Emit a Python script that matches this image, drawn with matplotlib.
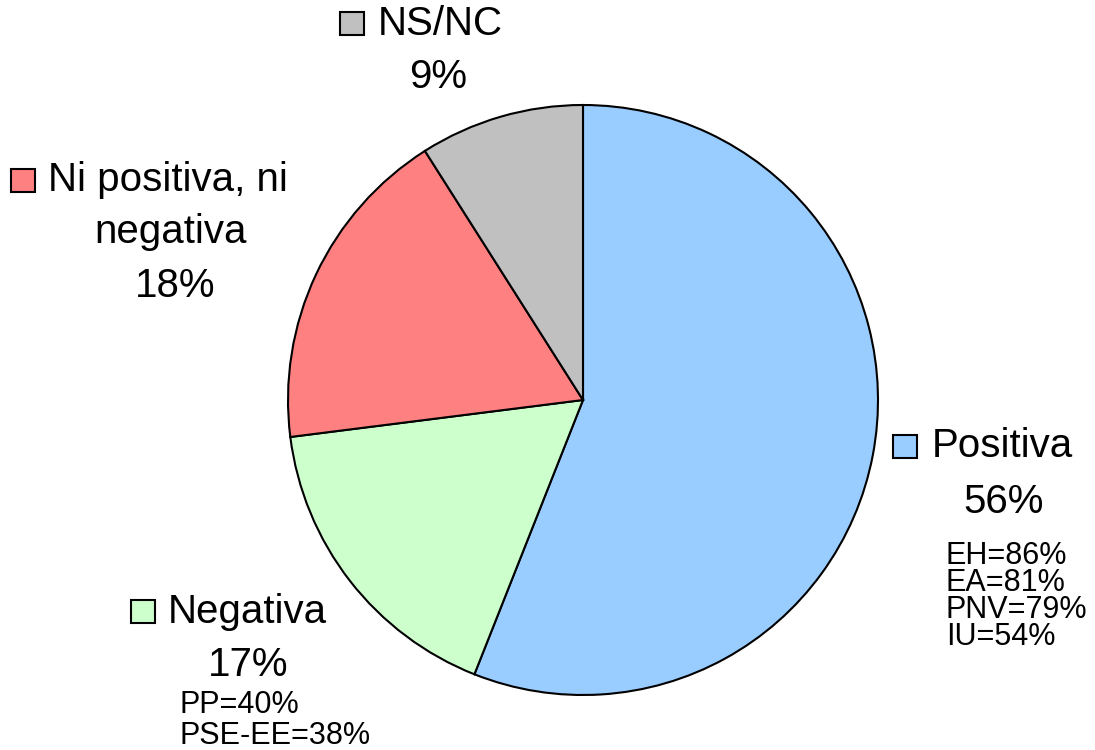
import matplotlib.pyplot as plt
from matplotlib.patches import Rectangle

plt.rcParams['font.family'] = ['Liberation Sans', 'DejaVu Sans']

labels = ['Positiva', 'Negativa', 'Ni positiva, ni negativa', 'NS/NC']
shares = [56, 17, 18, 9]
colors = ['#99CCFF', '#CCFFCC', '#FF8080', '#C0C0C0']
positiva_notes = ['EH=86%', 'EA=81%', 'PNV=79%', 'IU=54%']
negativa_notes = ['PP=40%', 'PSE-EE=38%']

H = 750
BIG = 29
SMALL = 22

fig = plt.figure(figsize=(10.95, 7.5), dpi=100)
ax = fig.add_axes([0, 0, 1, 1])
ax.pie(shares, colors=colors, startangle=90, counterclock=False,
       center=(583, H - 400), radius=295,
       wedgeprops=dict(edgecolor='black', linewidth=1.5))
ax.set_xlim(0, 1095)
ax.set_ylim(0, H)
ax.set_aspect('equal')
ax.axis('off')


def key(x, y_base, color):
    # small legend square sitting on the text baseline
    ax.add_patch(Rectangle((x, H - y_base), 24, 23, facecolor=color,
                           edgecolor='black', linewidth=1.5))


def txt(x, y_base, s, size=BIG, ha='left', ls=1.2):
    # y_base is the baseline of the last line
    ax.text(x, H - y_base, s, fontsize=size, ha=ha, va='baseline',
            linespacing=ls)


# Positiva
key(893, 458, colors[0])
txt(932, 457, labels[0])
txt(1004, 513, f'{shares[0]}%', ha='center')
txt(946, 645, '\n'.join(positiva_notes), size=SMALL, ls=0.87)

# Negativa
key(131, 623, colors[1])
txt(168, 623, labels[1])
txt(248, 676, f'{shares[1]}%', ha='center')
txt(179, 744, '\n'.join(negativa_notes), size=SMALL, ls=1.045)

# Ni positiva, ni negativa
key(11, 192, colors[2])
txt(48, 191, 'Ni positiva, ni')
txt(171, 243, 'negativa', ha='center')
txt(175, 297, f'{shares[2]}%', ha='center')

# NS/NC
key(340, 35, colors[3])
txt(378, 35, labels[3])
txt(438, 88, f'{shares[3]}%', ha='center')

fig.savefig('out.png', dpi=100)
